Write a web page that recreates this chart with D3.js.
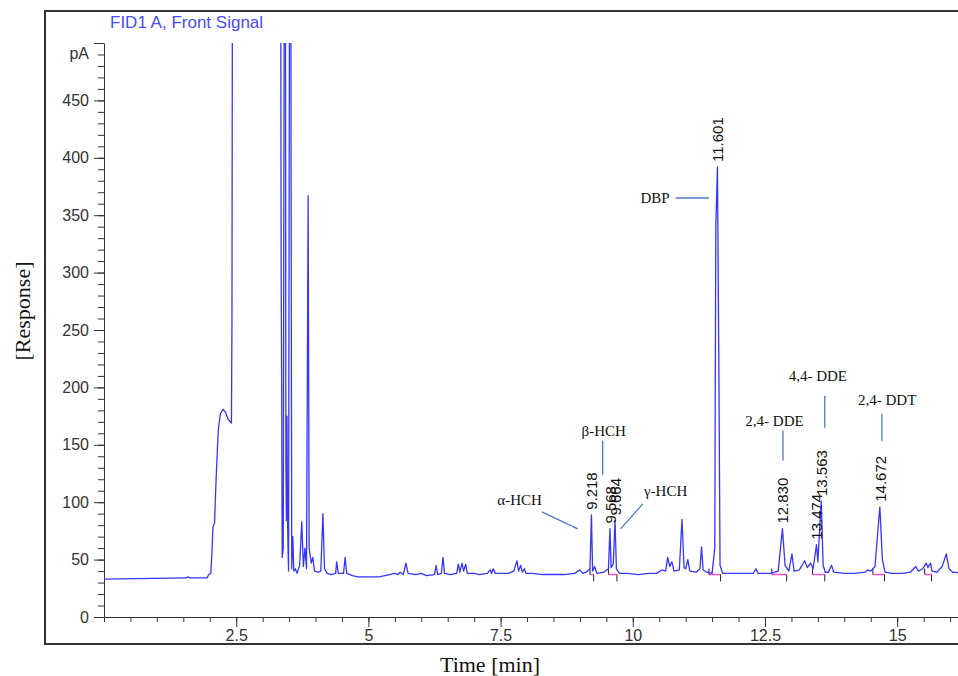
<!DOCTYPE html>
<html>
<head>
<meta charset="utf-8">
<script src="https://cdn.jsdelivr.net/npm/d3@7"></script>
<style>
  body { margin: 0; background: #fff; }
  svg { display: block; }
  .tick text { font-family: "Liberation Sans", Arial, sans-serif; font-size: 16px; fill: #333; }
  .tick line, .domain { stroke: #333; }
</style>
</head>
<body>
<svg id="chart"></svg>
<script>
const WIDTH = 958;
const HEIGHT = 676;

// FID signal, [time (min), response (pA)]; >500 is off scale
const trace = [
  [0.00, 33], [1.55, 34], [1.59, 35], [1.62, 34], [1.95, 34], [1.98, 37], [2.02, 38],
  [2.04, 55], [2.06, 78], [2.09, 82], [2.12, 120], [2.16, 162], [2.20, 177], [2.25, 181],
  [2.30, 178], [2.35, 172], [2.41, 169], [2.42, 260], [2.43, 620],
  [3.34, 620], [3.35, 310], [3.36, 200], [3.37, 52], [3.39, 60], [3.41, 620], [3.43, 620],
  [3.44, 130], [3.45, 84], [3.46, 175], [3.47, 90], [3.48, 60], [3.49, 40], [3.51, 620],
  [3.53, 620], [3.55, 42], [3.57, 70], [3.59, 40], [3.62, 42], [3.65, 38], [3.70, 45],
  [3.74, 83], [3.77, 44], [3.80, 60], [3.83, 42], [3.86, 367], [3.88, 60], [3.92, 47],
  [3.95, 52], [3.98, 40], [4.05, 39], [4.10, 40], [4.14, 90], [4.17, 42], [4.22, 38],
  [4.30, 37], [4.38, 38], [4.40, 48], [4.43, 38], [4.53, 38], [4.56, 52], [4.59, 38],
  [4.70, 36], [4.80, 35], [5.00, 35], [5.20, 35], [5.40, 37], [5.50, 38], [5.56, 37],
  [5.60, 39], [5.66, 37], [5.71, 47], [5.75, 38], [5.90, 37], [6.00, 38], [6.10, 36],
  [6.25, 37], [6.28, 45], [6.31, 37], [6.38, 38], [6.41, 52], [6.44, 38], [6.55, 37],
  [6.67, 38], [6.70, 46], [6.73, 39], [6.77, 47], [6.80, 40], [6.84, 46], [6.87, 38],
  [7.00, 38], [7.10, 37], [7.25, 38], [7.30, 41], [7.33, 38], [7.36, 42], [7.40, 38],
  [7.55, 38], [7.65, 38], [7.75, 40], [7.81, 49], [7.84, 40], [7.88, 45], [7.91, 39],
  [7.95, 42], [7.98, 38], [8.10, 38], [8.30, 37], [8.50, 37], [8.70, 37], [8.90, 38],
  [9.00, 41], [9.05, 38], [9.12, 39], [9.19, 42], [9.218, 89], [9.24, 40], [9.28, 44],
  [9.32, 38], [9.45, 39], [9.54, 42], [9.568, 77], [9.59, 43], [9.63, 46], [9.664, 84],
  [9.69, 42], [9.75, 38], [9.90, 38], [10.10, 37], [10.30, 38], [10.45, 38], [10.55, 41],
  [10.62, 40], [10.66, 52], [10.70, 44], [10.74, 48], [10.78, 40], [10.88, 41], [10.93, 85],
  [10.97, 43], [11.00, 42], [11.04, 50], [11.08, 40], [11.20, 39], [11.27, 42], [11.30, 61],
  [11.33, 41], [11.40, 39], [11.50, 38], [11.55, 60], [11.57, 340], [11.601, 392],
  [11.63, 200], [11.65, 45], [11.70, 38], [11.90, 38], [12.10, 38], [12.28, 38], [12.33, 42],
  [12.37, 38], [12.60, 38], [12.75, 40], [12.83, 77], [12.88, 45], [12.95, 40], [13.01, 55],
  [13.05, 40], [13.15, 41], [13.25, 49], [13.30, 43], [13.36, 47], [13.41, 42], [13.474, 63],
  [13.50, 48], [13.563, 101], [13.60, 45], [13.64, 39], [13.70, 39], [13.76, 45], [13.80, 39],
  [14.00, 38], [14.20, 38], [14.40, 39], [14.44, 41], [14.50, 40], [14.58, 44], [14.672, 96],
  [14.72, 50], [14.77, 39], [14.90, 38], [15.10, 38], [15.25, 39], [15.35, 44], [15.40, 40],
  [15.48, 42], [15.55, 47], [15.58, 43], [15.63, 47], [15.66, 40], [15.75, 39], [15.85, 44],
  [15.93, 55], [15.98, 42], [16.05, 39], [16.30, 38]
];

// retention time labels
const peakTimes = [9.218, 9.568, 9.664, 11.601, 12.830, 13.474, 13.563, 14.672];
const peakHeights = [89, 77, 84, 392, 77, 63, 101, 96];

// integration baselines (start / end, min)
const integStart = [9.19, 9.54, 11.44, 12.63, 13.40, 14.54, 15.52];
const integEnd = [9.26, 9.70, 11.66, 12.91, 13.63, 14.76, 15.65];
const integLevel = 37;

// compound names, label centre [min, pA] and leader [t1, v1, t2, v2]
const compoundNames = ['α-HCH', 'β-HCH', 'γ-HCH', 'DBP', '2,4- DDE', '4,4- DDE', '2,4- DDT'];
const compoundAt = [[7.86, 102], [9.45, 162], [10.62, 110], [10.42, 365], [12.68, 171], [13.50, 210], [14.81, 189]];
const compoundLeaders = [
  [8.28, 91.6, 8.96, 76.8],
  [9.43, 153.6, 9.43, 123.9],
  [10.19, 98.6, 9.77, 76.8],
  [10.81, 365, 11.44, 365],
  [12.84, 162.3, 12.84, 136.1],
  [13.63, 192.8, 13.63, 164.9],
  [14.71, 177.1, 14.71, 153.6]
];

const xTicks = [2.5, 5, 7.5, 10, 12.5, 15];
const yTicks = [0, 50, 100, 150, 200, 250, 300, 350, 400, 450, 500];

const svg = d3.select('#chart')
  .attr('width', WIDTH)
  .attr('height', HEIGHT);

const x = d3.scaleLinear().domain([0, 16.15]).range([104, 958]);
const y = d3.scaleLinear().domain([0, 500]).range([617, 43]);

// outer frame
svg.append('rect')
  .attr('x', 45).attr('y', 11)
  .attr('width', 960).attr('height', 633)
  .attr('fill', 'none')
  .attr('stroke', '#333')
  .attr('stroke-width', 2);

svg.append('text')
  .attr('x', 110).attr('y', 28)
  .style('font-family', '"Liberation Sans", Arial, sans-serif')
  .style('font-size', '17px')
  .attr('fill', '#4a4aff')
  .text('FID1 A, Front Signal');

//    Axes    ////////////////////////////////////////////////

svg.append('g')
  .attr('transform', `translate(0,${y(0)})`)
  .call(d3.axisBottom(x).tickValues(d3.range(0.5, 16.1, 0.5)).tickSize(5).tickFormat(''));

svg.append('g')
  .attr('transform', `translate(0,${y(0)})`)
  .call(d3.axisBottom(x).tickValues(xTicks).tickSize(10).tickSizeOuter(0).tickPadding(3)
    .tickFormat(d3.format('')));

svg.append('g')
  .attr('transform', `translate(${x(0)},0)`)
  .call(d3.axisLeft(y).tickValues(d3.range(0, 501, 10)).tickSize(6).tickSizeOuter(0).tickFormat(''));

// the top tick carries the unit instead of a number
svg.append('g')
  .attr('transform', `translate(${x(0)},0)`)
  .call(d3.axisLeft(y).tickValues(yTicks).tickSize(10).tickSizeOuter(0).tickPadding(5)
    .tickFormat(d => d === 500 ? '' : d))
  .call(g => g.select('.domain').remove());

svg.append('text')
  .attr('x', 89).attr('y', y(500) + 16)
  .attr('text-anchor', 'end')
  .style('font-family', '"Liberation Sans", Arial, sans-serif')
  .style('font-size', '16px')
  .attr('fill', '#333')
  .text('pA');

svg.append('text')
  .attr('transform', 'translate(30,311) rotate(-90)')
  .attr('text-anchor', 'middle')
  .style('font-family', '"Liberation Serif", "Times New Roman", serif')
  .style('font-size', '22px')
  .attr('fill', '#111')
  .text('[Response]');

svg.append('text')
  .attr('x', 490).attr('y', 672)
  .attr('text-anchor', 'middle')
  .style('font-family', '"Liberation Serif", "Times New Roman", serif')
  .style('font-size', '22px')
  .attr('fill', '#111')
  .text('Time [min]');

//    Trace    ////////////////////////////////////////////////

svg.append('clipPath').attr('id', 'plot-clip')
  .append('rect')
  .attr('x', x(0)).attr('y', y(500))
  .attr('width', WIDTH - x(0)).attr('height', y(0) - y(500));

const integ = svg.append('g');
integ.selectAll('.base')
  .data(integStart)
  .enter().append('line')
  .attr('x1', d => x(d))
  .attr('x2', (d, i) => x(integEnd[i]))
  .attr('y1', y(integLevel)).attr('y2', y(integLevel))
  .attr('stroke', '#ff4fd0')
  .attr('stroke-width', 1.5);

svg.append('path')
  .datum(trace)
  .attr('clip-path', 'url(#plot-clip)')
  .attr('fill', 'none')
  .attr('stroke', '#3535ff')
  .attr('stroke-width', 1.3)
  .attr('stroke-linejoin', 'round')
  .attr('d', d3.line().x(d => x(d[0])).y(d => y(d[1])));

integ.selectAll('.start')
  .data(integStart)
  .enter().append('line')
  .attr('x1', d => x(d)).attr('x2', d => x(d))
  .attr('y1', y(integLevel) - 6).attr('y2', y(integLevel))
  .attr('stroke', '#222');

integ.selectAll('.end')
  .data(integEnd)
  .enter().append('line')
  .attr('x1', d => x(d)).attr('x2', d => x(d))
  .attr('y1', y(integLevel)).attr('y2', y(integLevel) + 7)
  .attr('stroke', '#222');

//    Labels    ////////////////////////////////////////////////

svg.selectAll('.rt')
  .data(peakTimes)
  .enter().append('text')
  .attr('class', 'rt')
  .attr('transform', (d, i) => `translate(${x(d) + 6},${y(peakHeights[i]) - 5}) rotate(-90)`)
  .style('font-family', '"Liberation Sans", Arial, sans-serif')
  .style('font-size', '15px')
  .attr('fill', '#111')
  .text(d => d3.format('.3f')(d));

svg.selectAll('.leader')
  .data(compoundLeaders)
  .enter().append('line')
  .attr('x1', d => x(d[0])).attr('y1', d => y(d[1]))
  .attr('x2', d => x(d[2])).attr('y2', d => y(d[3]))
  .attr('stroke', '#4d79c9')
  .attr('stroke-width', 1.3);

svg.selectAll('.compound')
  .data(compoundNames)
  .enter().append('text')
  .attr('x', (d, i) => x(compoundAt[i][0]))
  .attr('y', (d, i) => y(compoundAt[i][1]))
  .attr('dy', '0.35em')
  .attr('text-anchor', 'middle')
  .style('font-family', '"Liberation Serif", "Times New Roman", serif')
  .style('font-size', '15px')
  .attr('fill', '#111')
  .text(d => d);
</script>
</body>
</html>
